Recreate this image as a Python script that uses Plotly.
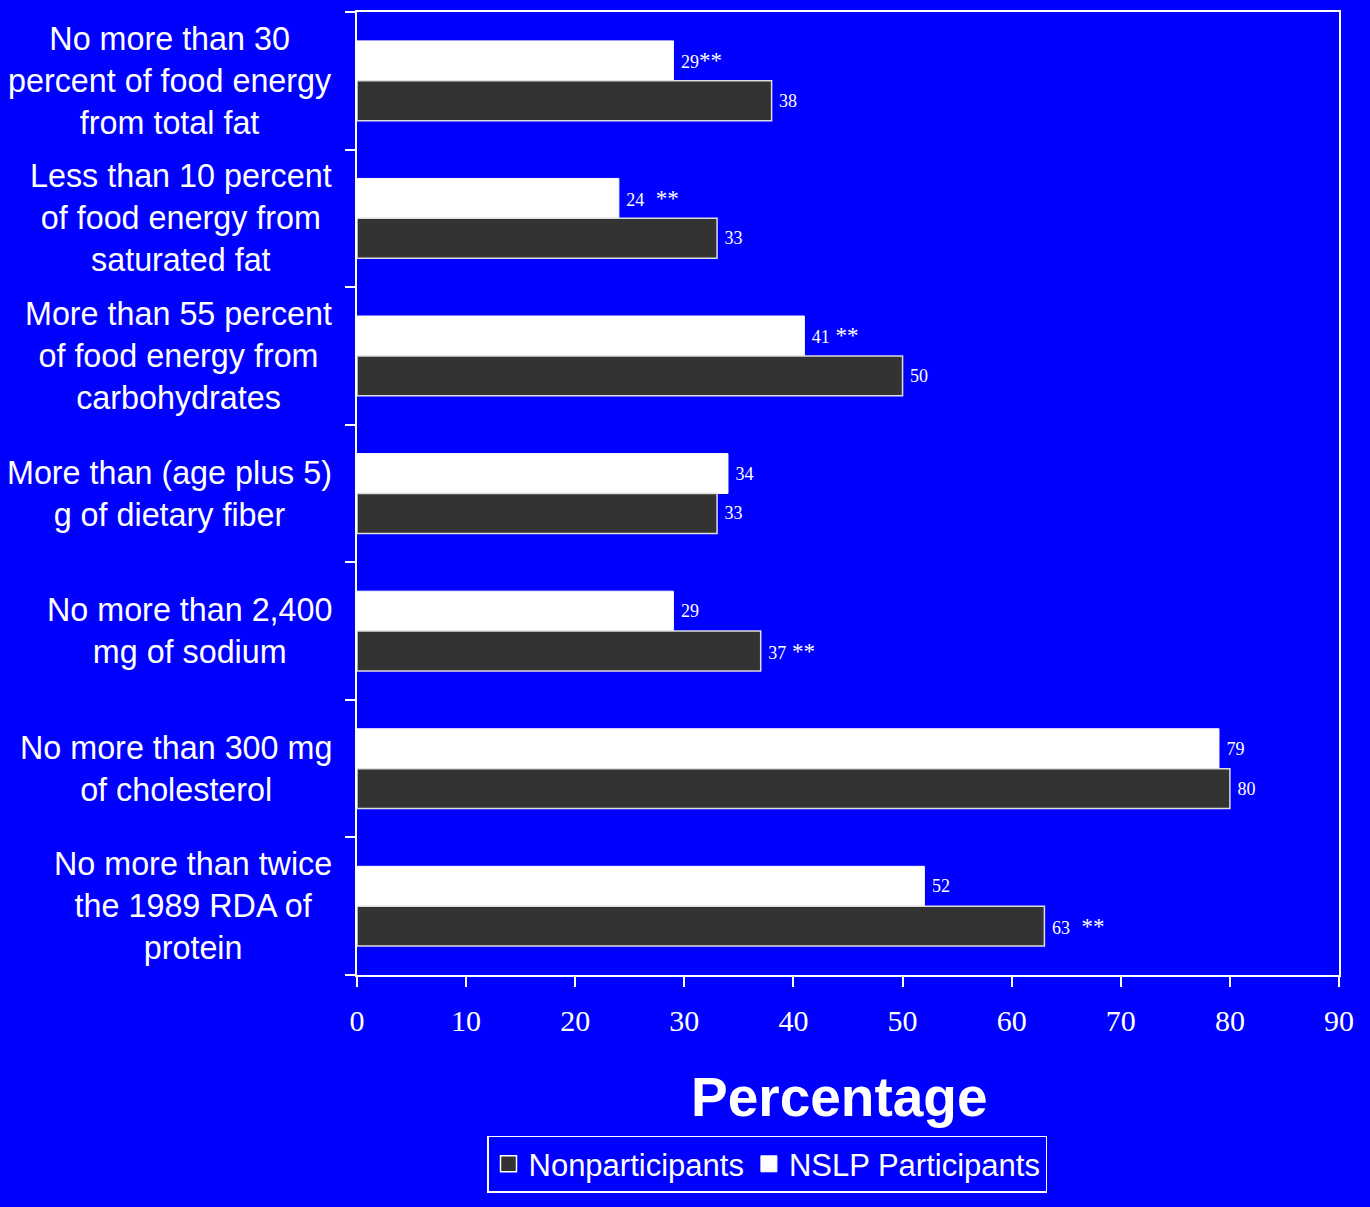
import plotly.graph_objects as go

categories = [
    "No more than 30<br>percent of food energy<br>from total fat",
    "Less than 10 percent<br>of food energy from<br>saturated fat",
    "More than 55 percent<br>of food energy from<br>carbohydrates",
    "More than (age plus 5)<br>g of dietary fiber",
    "No more than 2,400<br>mg of sodium",
    "No more than 300 mg<br>of cholesterol",
    "No more than twice<br>the 1989 RDA of<br>protein",
]
nslp_values = [29, 24, 41, 34, 29, 79, 52]
nslp_stars = ["**", "  **", " **", "", "", "", ""]
non_values = [38, 33, 50, 33, 37, 80, 63]
non_stars = ["", "", "", "", " **", "", "  **"]
x_ticks = [0, 10, 20, 30, 40, 50, 60, 70, 80, 90]

BLUE = "#0000FF"
DARK = "#333333"
ypos = list(range(len(categories)))


def make_labels(vals, stars):
    out = []
    for v, s in zip(vals, stars):
        t = f" {v}"
        if s:
            t += f'<span style="font-size:23px">{s}</span>'
        out.append(t)
    return out


fig = go.Figure()
fig.add_trace(go.Bar(
    y=ypos, x=nslp_values, orientation="h", name="NSLP Participants",
    marker=dict(color="white", line=dict(color="white", width=1)),
    text=make_labels(nslp_values, nslp_stars), textposition="outside",
    constraintext="none",
    textfont=dict(family="Liberation Serif", size=18, color="white"),
    showlegend=False, cliponaxis=False,
))
fig.add_trace(go.Bar(
    y=ypos, x=non_values, orientation="h", name="Nonparticipants",
    marker=dict(color=DARK, line=dict(color="#DDDDDD", width=1.5)),
    text=make_labels(non_values, non_stars), textposition="outside",
    constraintext="none",
    textfont=dict(family="Liberation Serif", size=18, color="white"),
    showlegend=False, cliponaxis=False,
))
# legend entries
fig.add_trace(go.Scatter(
    x=[None], y=[None], mode="markers", name="Nonparticipants",
    marker=dict(symbol="square", size=17, color=DARK, line=dict(color="white", width=1.5)),
))
fig.add_trace(go.Scatter(
    x=[None], y=[None], mode="markers", name="NSLP Participants",
    marker=dict(symbol="square", size=17, color="white", line=dict(color="white", width=1)),
))

for i, c in enumerate(categories):
    fig.add_annotation(
        x=-0.023, xref="paper", y=i, yref="y", text=c, showarrow=False,
        xanchor="right", yanchor="middle", align="center",
        font=dict(family="Liberation Sans, Arial", size=32.3, color="white"),
    )

fig.add_annotation(
    x=(839 - 357) / 982, xref="paper", y=-(1097 - 975) / 965, yref="paper",
    text="<b>Percentage</b>", showarrow=False, xanchor="center", yanchor="middle",
    font=dict(family="Liberation Sans, Arial", size=55, color="white"),
)

fig.update_layout(
    width=1370, height=1207,
    paper_bgcolor=BLUE, plot_bgcolor=BLUE,
    margin=dict(l=357, r=31, t=10, b=232),
    barmode="group", bargap=0.42, bargroupgap=0,
    showlegend=True,
    legend=dict(
        orientation="h", x=(767 - 357) / 982, xanchor="center",
        y=-(1136 - 975) / 965, yanchor="top",
        bordercolor="white", borderwidth=1.5, bgcolor=BLUE,
        font=dict(family="Liberation Sans, Arial", size=31, color="white"),
        itemwidth=30, tracegroupgap=0,
    ),
    xaxis=dict(
        range=[0, 90], tickvals=x_ticks, showgrid=False, zeroline=False,
        showline=True, mirror=True, linecolor="white", linewidth=1.5,
        ticks="outside", ticklen=10, tickcolor="white", tickwidth=1.5,
        ticklabelstandoff=8,
        tickfont=dict(family="Liberation Serif", size=30, color="white"),
    ),
    yaxis=dict(
        type="linear", range=[len(categories) - 0.5, -0.5],
        tickvals=[i - 0.5 for i in range(len(categories) + 1)],
        showticklabels=False, showgrid=False, zeroline=False,
        showline=True, mirror=True, linecolor="white", linewidth=1.5,
        ticks="outside", ticklen=10, tickcolor="white", tickwidth=1.5,
    ),
)

fig.write_html("out.html")
